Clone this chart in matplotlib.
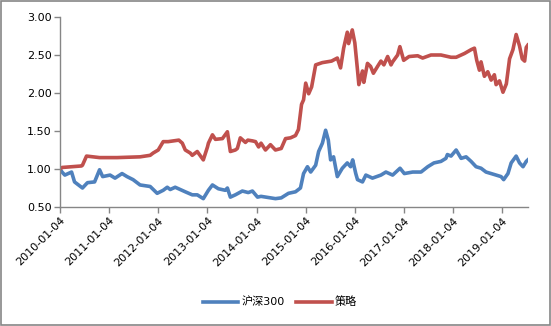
import matplotlib
matplotlib.use("Agg")
import matplotlib.pyplot as plt
import matplotlib.transforms as mtransforms
from matplotlib.patches import Rectangle
import pandas as pd

plt.rcParams["font.family"] = ["DejaVu Sans", "Noto Sans CJK SC"]

# values (approximate)
hs300_dates = [
    "2010-01-04", "2010-01-19", "2010-02-09", "2010-03-31", "2010-04-22", "2010-06-20",
    "2010-07-27", "2010-09-18", "2010-10-25", "2010-11-17", "2011-01-11", "2011-02-17",
    "2011-04-10", "2011-05-17", "2011-07-01", "2011-08-22", "2011-11-05", "2011-12-27",
    "2012-02-10", "2012-03-11", "2012-04-02", "2012-05-09", "2012-07-23", "2012-09-13",
    "2012-10-20", "2012-12-04", "2013-01-11", "2013-02-10", "2013-03-26", "2013-05-16",
    "2013-06-01", "2013-06-23", "2013-07-30", "2013-09-20", "2013-11-03", "2013-12-04",
    "2014-01-11", "2014-02-06", "2014-05-24", "2014-07-06", "2014-08-29", "2014-10-20",
    "2014-11-26", "2014-12-19", "2015-01-17", "2015-02-10", "2015-03-19", "2015-04-10",
    "2015-05-08", "2015-06-01", "2015-06-21", "2015-07-08", "2015-07-30", "2015-08-27",
    "2015-10-03", "2015-11-09", "2015-12-04", "2015-12-19", "2016-01-11", "2016-01-24",
    "2016-03-01", "2016-03-26", "2016-05-14", "2016-07-16", "2016-08-22", "2016-10-11",
    "2016-12-05", "2017-01-06", "2017-03-09", "2017-05-10", "2017-06-29", "2017-08-14",
    "2017-10-05", "2017-11-11", "2017-11-22", "2017-12-19", "2018-01-26", "2018-03-04",
    "2018-04-10", "2018-05-17", "2018-06-23", "2018-07-30", "2018-09-05", "2018-10-13",
    "2018-11-19", "2018-12-26", "2019-01-14", "2019-02-15", "2019-03-11", "2019-04-17",
    "2019-05-12", "2019-06-07", "2019-07-01", "2019-07-13",
]
hs300_values = [
    1.00, 0.96, 0.92, 0.96, 0.83, 0.75,
    0.82, 0.83, 0.99, 0.90, 0.92, 0.88,
    0.94, 0.90, 0.86, 0.79, 0.77, 0.68,
    0.72, 0.76, 0.73, 0.76, 0.70, 0.66,
    0.66, 0.61, 0.72, 0.79, 0.74, 0.72,
    0.75, 0.63, 0.66, 0.71, 0.69, 0.71,
    0.63, 0.64, 0.61, 0.62, 0.68, 0.70,
    0.75, 0.94, 1.03, 0.96, 1.05, 1.23,
    1.34, 1.51, 1.38, 1.12, 1.16, 0.90,
    1.01, 1.08, 1.03, 1.12, 0.94, 0.86,
    0.83, 0.92, 0.88, 0.92, 0.96, 0.92,
    1.01, 0.94, 0.96, 0.96, 1.03, 1.08,
    1.10, 1.14, 1.19, 1.17, 1.25, 1.14,
    1.16, 1.10, 1.03, 1.01, 0.96, 0.94,
    0.92, 0.90, 0.86, 0.94, 1.08, 1.17,
    1.08, 1.03, 1.10, 1.12,
]

strategy_dates = [
    "2010-01-04", "2010-01-19", "2010-06-13", "2010-06-20", "2010-07-20", "2010-10-25",
    "2011-03-04", "2011-08-22", "2011-11-05", "2011-11-27", "2012-01-04", "2012-02-10",
    "2012-03-18", "2012-06-05", "2012-07-01", "2012-07-23", "2012-08-29", "2012-09-13",
    "2012-10-20", "2012-12-04", "2013-01-04", "2013-01-11", "2013-02-10", "2013-03-04",
    "2013-04-25", "2013-06-01", "2013-06-23", "2013-07-30", "2013-08-14", "2013-09-05",
    "2013-10-13", "2013-10-31", "2013-12-04", "2013-12-27", "2014-01-19", "2014-02-06",
    "2014-03-11", "2014-04-17", "2014-05-24", "2014-07-06", "2014-08-07", "2014-09-13",
    "2014-10-20", "2014-11-11", "2014-12-04", "2014-12-19", "2015-01-04", "2015-01-26",
    "2015-02-17", "2015-03-19", "2015-05-08", "2015-07-15", "2015-08-27", "2015-09-20",
    "2015-10-13", "2015-11-09", "2015-11-19", "2015-12-16", "2016-01-04", "2016-01-24",
    "2016-02-03", "2016-03-01", "2016-03-11", "2016-04-07", "2016-04-30", "2016-05-21",
    "2016-06-21", "2016-07-16", "2016-08-07", "2016-09-04", "2016-09-29", "2016-10-11",
    "2016-11-17", "2016-12-04", "2017-01-01", "2017-02-10", "2017-04-15", "2017-05-22",
    "2017-07-23", "2017-10-05", "2017-12-19", "2018-01-26", "2018-03-29", "2018-05-17",
    "2018-06-11", "2018-06-28", "2018-07-18", "2018-07-30", "2018-08-24", "2018-09-18",
    "2018-10-13", "2018-11-06", "2018-11-19", "2018-12-14", "2019-01-09", "2019-02-03",
    "2019-02-27", "2019-03-24", "2019-04-17", "2019-05-12", "2019-06-01", "2019-06-19",
    "2019-07-01", "2019-07-13",
]
strategy_values = [
    1.00, 1.02, 1.04, 1.05, 1.17, 1.15,
    1.15, 1.16, 1.18, 1.21, 1.25, 1.36,
    1.36, 1.38, 1.34, 1.25, 1.21, 1.18,
    1.23, 1.12, 1.29, 1.34, 1.45, 1.39,
    1.40, 1.49, 1.23, 1.25, 1.27, 1.41,
    1.35, 1.38, 1.37, 1.36, 1.29, 1.34,
    1.25, 1.32, 1.25, 1.27, 1.40, 1.41,
    1.44, 1.52, 1.85, 1.91, 2.13, 1.99,
    2.08, 2.37, 2.40, 2.42, 2.46, 2.33,
    2.59, 2.80, 2.65, 2.83, 2.66, 2.30,
    2.11, 2.29, 2.14, 2.39, 2.35, 2.26,
    2.35, 2.42, 2.37, 2.48, 2.37, 2.41,
    2.50, 2.61, 2.43, 2.48, 2.49, 2.46,
    2.50, 2.50, 2.47, 2.47, 2.52, 2.57,
    2.59, 2.43, 2.30, 2.41, 2.22, 2.28,
    2.17, 2.24, 2.11, 2.16, 2.01, 2.12,
    2.45, 2.57, 2.77, 2.62, 2.45, 2.42,
    2.60, 2.63,
]

tick_dates = [f"{y}-01-04" for y in range(2010, 2020)]
y_ticks = [0.5, 1.0, 1.5, 2.0, 2.5, 3.0]

blue = "#4F81BD"
red = "#C0504D"
grey = "#868686"

fig = plt.figure(figsize=(5.51, 3.26), dpi=100)
ax = fig.add_axes([60 / 551, 1 - 207 / 326, 468 / 551, 190 / 326])

ax.plot(pd.to_datetime(hs300_dates), hs300_values, color=blue, lw=2.6,
        solid_joinstyle="round", label="沪深300")
ax.plot(pd.to_datetime(strategy_dates), strategy_values, color=red, lw=2.6,
        solid_joinstyle="round", label="策略")

ax.set_xlim(pd.Timestamp("2010-01-04"), pd.Timestamp("2019-07-14"))
ax.set_ylim(0.5, 3.0)
ax.set_yticks(y_ticks)
ax.yaxis.set_major_formatter(plt.FormatStrFormatter("%.2f"))

ax.set_xticks(pd.to_datetime(tick_dates))
ax.set_xticklabels(tick_dates, rotation=45, ha="right", va="top",
                   rotation_mode="anchor")
# nudge the slanted labels a little right and down, like the original
shift = mtransforms.ScaledTranslation(5 / 100, -7 / 100, fig.dpi_scale_trans)
for lab in ax.get_xticklabels():
    lab.set_transform(lab.get_transform() + shift)

for side in ["top", "right"]:
    ax.spines[side].set_visible(False)
for side in ["left", "bottom"]:
    ax.spines[side].set_color(grey)
    ax.spines[side].set_linewidth(1.0)
ax.tick_params(axis="both", color=grey, length=4, width=1, labelsize=8,
               labelcolor="black")
ax.tick_params(axis="y", pad=2)
ax.tick_params(axis="x", pad=2)

ax.legend(loc="center", bbox_to_anchor=(280 / 551, 1 - 302 / 326),
          bbox_transform=fig.transFigure, ncol=2, frameon=False, fontsize=8,
          handlelength=3.2, columnspacing=1.0, handletextpad=0.3)

fig.patches.append(Rectangle((0.001, 0.002), 0.997, 0.995, transform=fig.transFigure,
                             fill=False, edgecolor=grey, lw=1.2))

fig.savefig("out.png", dpi=100)
